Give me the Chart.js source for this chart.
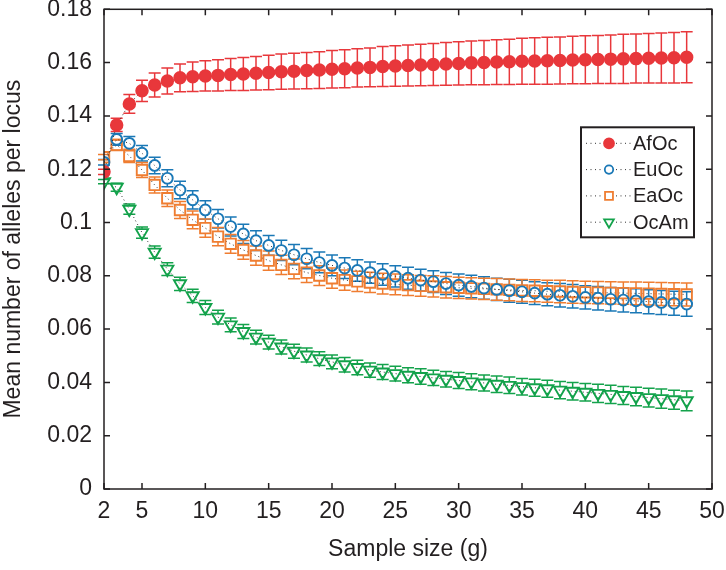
<!DOCTYPE html>
<html>
<head>
<meta charset="utf-8">
<script src="https://cdn.jsdelivr.net/npm/chart.js@4.4.1/dist/chart.umd.min.js"></script>
<style>
  html, body { margin: 0; padding: 0; background: #fff; }
  #wrap { width: 726px; height: 570px; }
</style>
</head>
<body>
<div id="wrap"><canvas id="alleleChart" width="726" height="570"></canvas></div>
<script>
// sample sizes g = 2..48
const sampleSizes = [2, 3, 4, 5, 6, 7, 8, 9, 10, 11, 12, 13, 14, 15, 16, 17, 18, 19, 20, 21, 22, 23, 24, 25,
  26, 27, 28, 29, 30, 31, 32, 33, 34, 35, 36, 37, 38, 39, 40, 41, 42, 43, 44, 45, 46, 47, 48];

const afoc = [0.119, 0.1366, 0.1445, 0.1494, 0.1516, 0.1531, 0.1543, 0.1547, 0.155, 0.1552, 0.1555, 0.1557,
  0.156, 0.1563, 0.1566, 0.1568, 0.157, 0.1572, 0.1575, 0.1577, 0.158, 0.1582, 0.1585, 0.1587, 0.1589, 0.1591,
  0.1593, 0.1595, 0.1597, 0.1599, 0.16, 0.1602, 0.1603, 0.1605, 0.1606, 0.1607, 0.1608, 0.161, 0.1611, 0.1612,
  0.1613, 0.1614, 0.1615, 0.1616, 0.1617, 0.1618, 0.162];
const afocErr = [0.001, 0.0025, 0.0035, 0.004, 0.0045, 0.0049, 0.0052, 0.0055, 0.0057, 0.0059, 0.006, 0.0062,
  0.0063, 0.0065, 0.0066, 0.0067, 0.0068, 0.0069, 0.007, 0.0071, 0.0072, 0.0073, 0.0075, 0.0076, 0.0077, 0.0078,
  0.0079, 0.008, 0.0081, 0.0082, 0.0083, 0.0084, 0.0085, 0.0086, 0.0087, 0.0088, 0.0088, 0.0089, 0.009, 0.009,
  0.0091, 0.0092, 0.0092, 0.0093, 0.0094, 0.0095, 0.0096];

const euoc = [0.1226, 0.1312, 0.1297, 0.126, 0.1214, 0.1166, 0.1122, 0.1085, 0.1047, 0.1014, 0.0985, 0.0957,
  0.0932, 0.0914, 0.0895, 0.0879, 0.0864, 0.085, 0.0839, 0.0829, 0.082, 0.0812, 0.0805, 0.0798, 0.0791, 0.0784,
  0.0778, 0.0771, 0.0765, 0.076, 0.0754, 0.0749, 0.0744, 0.074, 0.0735, 0.0731, 0.0727, 0.0723, 0.0719, 0.0716,
  0.0712, 0.0709, 0.0706, 0.0703, 0.07, 0.0697, 0.0694];
const euocErr = [0.001, 0.0022, 0.0026, 0.0029, 0.0031, 0.0032, 0.0033, 0.0034, 0.0035, 0.0035, 0.0036, 0.0036,
  0.0037, 0.0037, 0.0038, 0.0038, 0.0038, 0.0039, 0.0039, 0.0039, 0.004, 0.004, 0.004, 0.004, 0.0041, 0.0041,
  0.0041, 0.0041, 0.0042, 0.0042, 0.0042, 0.0042, 0.0043, 0.0043, 0.0043, 0.0043, 0.0044, 0.0044, 0.0044, 0.0044,
  0.0044, 0.0045, 0.0045, 0.0045, 0.0045, 0.0045, 0.0046];

const eaoc = [0.1245, 0.1291, 0.125, 0.1197, 0.1141, 0.1091, 0.1047, 0.101, 0.0979, 0.0947, 0.092, 0.0897,
  0.0876, 0.0857, 0.0841, 0.0826, 0.0812, 0.0801, 0.0791, 0.0784, 0.0779, 0.0775, 0.0771, 0.0768, 0.0765, 0.0762,
  0.076, 0.0757, 0.0755, 0.0753, 0.0751, 0.0749, 0.0747, 0.0745, 0.0744, 0.0742, 0.0741, 0.0739, 0.0738, 0.0737,
  0.0736, 0.0735, 0.0734, 0.0733, 0.0732, 0.0731, 0.073];
const eaocErr = [0.001, 0.002, 0.0025, 0.0028, 0.003, 0.0031, 0.0032, 0.0033, 0.0034, 0.0034, 0.0035, 0.0035,
  0.0036, 0.0036, 0.0036, 0.0037, 0.0037, 0.0037, 0.0038, 0.0038, 0.0038, 0.0038, 0.0039, 0.0039, 0.0039, 0.0039,
  0.004, 0.004, 0.004, 0.004, 0.004, 0.0041, 0.0041, 0.0041, 0.0041, 0.0041, 0.0042, 0.0042, 0.0042, 0.0042,
  0.0042, 0.0042, 0.0043, 0.0043, 0.0043, 0.0043, 0.0043];

const ocam = [0.1153, 0.1132, 0.105, 0.0962, 0.0889, 0.0825, 0.077, 0.0725, 0.0681, 0.0645, 0.0616, 0.0591,
  0.057, 0.0551, 0.0533, 0.0517, 0.0503, 0.0489, 0.0477, 0.0466, 0.0456, 0.0446, 0.0439, 0.0433, 0.0427, 0.0422,
  0.0417, 0.0412, 0.0407, 0.0402, 0.0398, 0.0393, 0.0389, 0.0384, 0.038, 0.0376, 0.0371, 0.0367, 0.0363, 0.0359,
  0.0355, 0.0351, 0.0347, 0.0343, 0.0339, 0.0335, 0.0331];
const ocamErr = [0.0008, 0.0015, 0.0019, 0.0021, 0.0023, 0.0024, 0.0025, 0.0025, 0.0026, 0.0026, 0.0026, 0.0026,
  0.0026, 0.0026, 0.0026, 0.0026, 0.0026, 0.0026, 0.0026, 0.0027, 0.0027, 0.0027, 0.0028, 0.0028, 0.0028, 0.0029,
  0.0029, 0.0029, 0.003, 0.003, 0.003, 0.0031, 0.0031, 0.0031, 0.0032, 0.0032, 0.0032, 0.0033, 0.0033, 0.0034,
  0.0034, 0.0034, 0.0035, 0.0035, 0.0036, 0.0036, 0.0037];

const xTicks = [2, 5, 10, 15, 20, 25, 30, 35, 40, 45, 50];
const yTicks = [0, 0.02, 0.04, 0.06, 0.08, 0.1, 0.12, 0.14, 0.16, 0.18];
const yTickLabels = ['0', '0.02', '0.04', '0.06', '0.08', '0.1', '0.12', '0.14', '0.16', '0.18'];

const FONT = '"Liberation Sans", Arial, Helvetica, sans-serif';
const INK = '#231f20';

function toPoints(vals, errs) {
  return sampleSizes.map((g, i) => ({ x: g, y: vals[i], err: errs[i] }));
}

function series(label, vals, errs, color, style, fill, radius, gap, rot) {
  return {
    label: label,
    data: toPoints(vals, errs),
    showLine: true,
    borderColor: '#333',
    borderWidth: 1,
    borderDash: [1, 3],
    pointStyle: style,
    pointRadius: radius,
    pointRotation: rot || 0,
    pointBorderColor: color,
    pointBackgroundColor: fill,
    pointBorderWidth: 1.9,
    errColor: color,
    markerGap: gap
  };
}

// error bars, drawn from the scales
const errorBars = {
  id: 'errorBars',
  beforeDatasetsDraw(chart) {
    const { ctx, scales: { x, y } } = chart;
    const cap = 6;
    chart.data.datasets.forEach((ds) => {
      ctx.save();
      ctx.strokeStyle = ds.errColor;
      ctx.lineWidth = 1.5;
      ctx.beginPath();
      ds.data.forEach((p) => {
        const px = x.getPixelForValue(p.x);
        const py = y.getPixelForValue(p.y);
        const top = y.getPixelForValue(p.y + p.err);
        const bot = y.getPixelForValue(p.y - p.err);
        if (py - ds.markerGap > top) { ctx.moveTo(px, top); ctx.lineTo(px, py - ds.markerGap); }
        if (py + ds.markerGap < bot) { ctx.moveTo(px, py + ds.markerGap); ctx.lineTo(px, bot); }
        ctx.moveTo(px - cap, top); ctx.lineTo(px + cap, top);
        ctx.moveTo(px - cap, bot); ctx.lineTo(px + cap, bot);
      });
      ctx.stroke();
      ctx.restore();
    });
  }
};

// box round the plot with ticks pointing inward
const frame = {
  id: 'frame',
  afterDraw(chart) {
    const { ctx, chartArea: a, scales: { x, y } } = chart;
    const t = 6;
    ctx.save();
    ctx.strokeStyle = INK;
    ctx.lineWidth = 1.5;
    ctx.strokeRect(a.left, a.top, a.right - a.left, a.bottom - a.top);
    ctx.beginPath();
    x.ticks.forEach((tk) => {
      const px = x.getPixelForValue(tk.value);
      ctx.moveTo(px, a.bottom); ctx.lineTo(px, a.bottom - t);
      ctx.moveTo(px, a.top); ctx.lineTo(px, a.top + t);
    });
    y.ticks.forEach((tk) => {
      const py = y.getPixelForValue(tk.value);
      ctx.moveTo(a.left, py); ctx.lineTo(a.left + t, py);
      ctx.moveTo(a.right, py); ctx.lineTo(a.right - t, py);
    });
    ctx.stroke();
    ctx.restore();
  }
};

// legend box inside the plot, matlab style
const boxLegend = {
  id: 'boxLegend',
  afterDraw(chart) {
    const { ctx, chartArea: a } = chart;
    const left = a.right - 131, top = a.top + 118, w = 113, h = 110;
    ctx.save();
    ctx.fillStyle = '#fff';
    ctx.fillRect(left, top, w, h);
    ctx.strokeStyle = INK;
    ctx.lineWidth = 2;
    ctx.strokeRect(left, top, w, h);
    chart.data.datasets.forEach((ds, i) => {
      const cy = top + 16 + i * 26.3;
      const mx = left + 28;
      ctx.save();
      ctx.strokeStyle = '#333';
      ctx.lineWidth = 1;
      ctx.setLineDash([1, 3.5]);
      ctx.beginPath();
      ctx.moveTo(left + 5, cy); ctx.lineTo(mx - 6, cy);
      ctx.moveTo(mx + 7, cy); ctx.lineTo(left + 50, cy);
      ctx.stroke();
      ctx.restore();
      ctx.strokeStyle = ds.pointBorderColor;
      ctx.fillStyle = ds.pointBackgroundColor;
      ctx.lineWidth = 1.8;
      Chart.helpers.drawPoint(ctx, {
        pointStyle: ds.pointStyle,
        radius: ds.pointStyle === 'circle' ? (ds.label === 'AfOc' ? 5 : 4.2) : 5.6,
        rotation: ds.pointRotation,
        borderWidth: 1.8
      }, mx, cy);
      ctx.fillStyle = INK;
      ctx.font = '20px ' + FONT;
      ctx.textBaseline = 'middle';
      ctx.textAlign = 'left';
      ctx.fillText(ds.label, left + 52, cy + 1);
    });
    ctx.restore();
  }
};

const clear = 'rgba(255,255,255,0)';

new Chart(document.getElementById('alleleChart'), {
  type: 'scatter',
  data: {
    datasets: [
      series('AfOc', afoc, afocErr, '#e8373b', 'circle', '#e8373b', 5.8, 5, 0),
      series('EuOc', euoc, euocErr, '#1a78b6', 'circle', clear, 5.4, 5.5, 0),
      series('EaOc', eaoc, eaocErr, '#ef7d31', 'rect', clear, 7.4, 5.5, 0),
      series('OcAm', ocam, ocamErr, '#13a24b', 'triangle', clear, 7, 4, 180)
    ]
  },
  options: {
    responsive: false,
    animation: false,
    devicePixelRatio: 1,
    layout: { padding: { left: 0, top: 9, right: 14, bottom: 0 } },
    plugins: {
      legend: { display: false },
      tooltip: { enabled: false }
    },
    scales: {
      x: {
        type: 'linear',
        min: 2,
        max: 50,
        afterBuildTicks: (s) => { s.ticks = xTicks.map((v) => ({ value: v })); },
        afterFit: (s) => { s.height = 81; s.paddingLeft = 0; s.paddingRight = 0; },
        grid: { display: false, drawTicks: false },
        border: { display: false },
        ticks: {
          autoSkip: false,
          maxRotation: 0,
          padding: 9,
          color: INK,
          font: { family: FONT, size: 23 }
        },
        title: {
          display: true,
          text: 'Sample size (g)',
          color: INK,
          font: { family: FONT, size: 23, lineHeight: 1.1 },
          padding: { top: 0, bottom: 8 }
        }
      },
      y: {
        min: 0,
        max: 0.18,
        afterBuildTicks: (s) => { s.ticks = yTicks.map((v) => ({ value: v })); },
        afterFit: (s) => { s.width = 104; s.paddingTop = 0; s.paddingBottom = 0; },
        grid: { display: false, drawTicks: false },
        border: { display: false },
        ticks: {
          padding: 12,
          color: INK,
          font: { family: FONT, size: 23 },
          callback: (v, i) => yTickLabels[i]
        },
        title: {
          display: true,
          text: 'Mean number of alleles per locus',
          color: INK,
          font: { family: FONT, size: 23, lineHeight: 1.1 },
          padding: { top: 1, bottom: 0 }
        }
      }
    }
  },
  plugins: [errorBars, frame, boxLegend]
});
</script>
</body>
</html>
